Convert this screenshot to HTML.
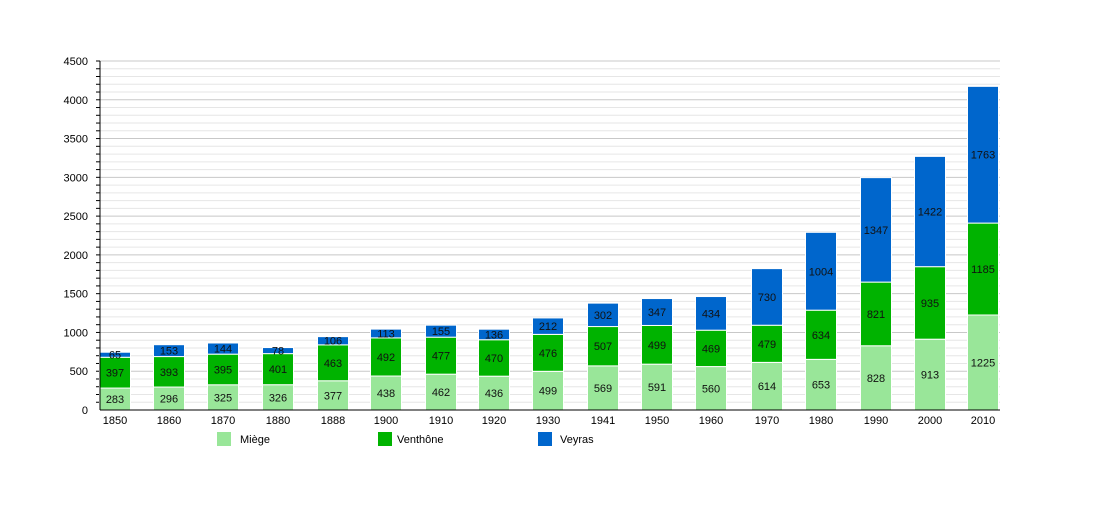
<!DOCTYPE html>
<html><head><meta charset="utf-8"><style>body{margin:0;background:#fff}svg{font-family:"Liberation Sans",sans-serif}</style></head>
<body><svg id="s" width="1100" height="500" xmlns="http://www.w3.org/2000/svg"></svg>
<script>
const s=document.getElementById('s');let h='';
const y=v=>410-v*349/4500;
for(let v=100;v<=4500;v+=100){h+=`<line x1="100" x2="1000" y1="${y(v)}" y2="${y(v)}" stroke="${v%500?'#e6e6e6':'#c8c8c8'}" stroke-width="1"/>`;
h+=`<line x1="96" x2="100" y1="${y(v)}" y2="${y(v)}" stroke="#000"/>`;}
for(let v=0;v<=4500;v+=500)h+=`<text x="88" y="${y(v)+4}" font-size="11" text-anchor="end">${v}</text>`;
const yrs=[1850,1860,1870,1880,1888,1900,1910,1920,1930,1941,1950,1960,1970,1980,1990,2000,2010];
const cx=[115,169,223,278,333,386,441,494,548,603,657,711,767,821,876,930,983];
const a=[283,296,325,326,377,438,462,436,499,569,591,560,614,653,828,913,1225];
const b=[397,393,395,401,463,492,477,470,476,507,499,469,479,634,821,935,1185];
const c=[65,153,144,78,106,113,155,136,212,302,347,434,730,1004,1347,1422,1763];
const col=['#99e699','#00b300','#0066cc'];
yrs.forEach((yr,i)=>{let base=0;[a,b,c].forEach((arr,k)=>{const v=arr[i];const t=y(base+v),bt=y(base);
h+=`<rect x="${cx[i]-15.5}" y="${t}" width="31" height="${bt-t}" fill="${col[k]}" stroke="#fff" stroke-width="1"/>`;
h+=`<text x="${cx[i]}" y="${(t+bt)/2+4}" font-size="11" text-anchor="middle" fill="#111">${v}</text>`;base+=v;});
h+=`<text x="${cx[i]}" y="424" font-size="11" text-anchor="middle">${yr}</text>`;});
h+=`<line x1="100" x2="1000" y1="410" y2="410" stroke="#000"/><line x1="100" x2="100" y1="61" y2="410" stroke="#000"/>`;
[[217,240,'Miège',0],[378,397,'Venthône',1],[538,560,'Veyras',2]].forEach(([x,tx,n,k])=>{h+=`<rect x="${x}" y="432" width="14" height="14" fill="${col[k]}"/><text x="${tx}" y="443" font-size="11">${n}</text>`;});
s.innerHTML=h;
</script></body></html>
